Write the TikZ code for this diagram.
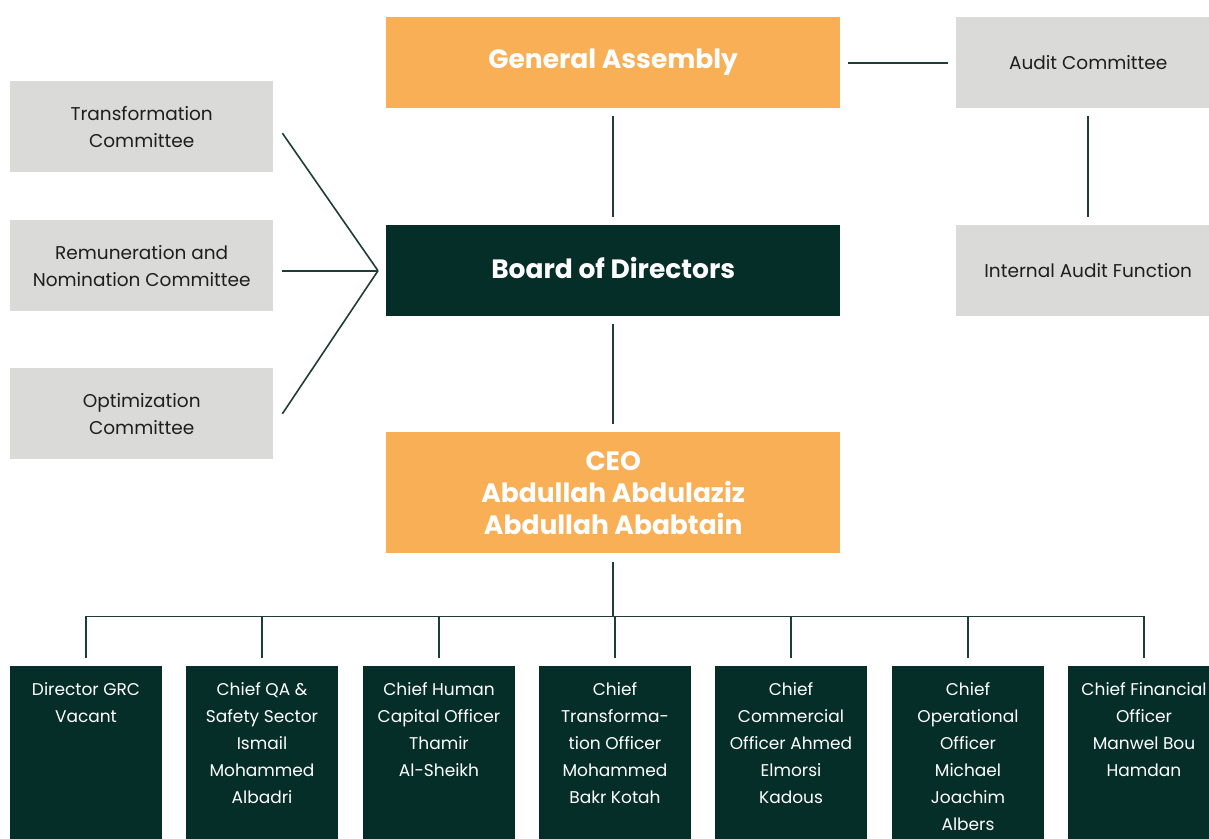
\documentclass[tikz,border=0pt]{standalone}
\usepackage{fontspec}
\setmainfont{Poppins}
\usetikzlibrary{calc}
\definecolor{orangebox}{HTML}{F9AF55}
\definecolor{greenbox}{HTML}{062E28}
\definecolor{greybox}{HTML}{DADAD9}
\definecolor{linkcol}{HTML}{1F3D36}
\definecolor{greytext}{HTML}{1E1E1E}
% text of a staff box, set from the top of the box
\newcommand\stafftext[1]{\parbox[t][180pt][t]{152pt}{\centering\rule{0pt}{29pt}#1}}
\begin{document}
\begin{tikzpicture}[x=1pt,y=-1pt,
  headbox/.style={fill=orangebox, text=white, anchor=north west, inner sep=0pt,
    minimum width=454pt, minimum height=91pt, align=center,
    font=\fontsize{26.5}{32}\selectfont\bfseries},
  boardbox/.style={headbox, fill=greenbox, text depth=6pt},
  sidebox/.style={fill=greybox, text=greytext, anchor=north west, inner sep=0pt,
    minimum width=264pt, minimum height=91pt, align=center,
    font=\fontsize{18.5}{27}\selectfont},
  staffbox/.style={fill=greenbox, text=white, anchor=north, inner sep=0pt,
    font=\fontsize{17}{27}\selectfont},
  link/.style={draw=linkcol, line width=1.6pt},
  gap/.style={shorten <=8pt, shorten >=8pt}]
\useasboundingbox[fill=white] (0,0) rectangle (1209,838);

% governing bodies
\node[headbox] (ga) at (386,17) {General Assembly};
\node[boardbox] (bod) at (386,225) {Board of Directors};
\node[headbox, minimum height=121pt] (ceo) at (386,432) {CEO\\Abdullah Abdulaziz\\Abdullah Ababtain};

% audit side
\node[sidebox] (ac) at (956,17) {Audit Committee};
\node[sidebox] (iaf) at (956,225) {Internal Audit Function};

% board committees
\node[sidebox, minimum width=263pt] (tc) at (10,81) {Transformation\\Committee};
\node[sidebox, minimum width=263pt] (rn) at (10,220) {Remuneration and\\Nomination Committee};
\node[sidebox, minimum width=263pt] (oc) at (10,368) {Optimization\\Committee};

% executive team
\node[staffbox] (s1) at (86,666) {\stafftext{Director GRC\\Vacant}};
\node[staffbox] (s2) at (262,666) {\stafftext{Chief QA \&\\Safety Sector\\Ismail\\Mohammed\\Albadri}};
\node[staffbox] (s3) at (439,666) {\stafftext{Chief Human\\Capital Officer\\Thamir\\Al-Sheikh}};
\node[staffbox] (s4) at (615,666) {\stafftext{Chief\\Transforma-\\tion Officer\\Mohammed\\Bakr Kotah}};
\node[staffbox] (s5) at (791,666) {\stafftext{Chief\\Commercial\\Officer Ahmed\\Elmorsi\\Kadous}};
\node[staffbox] (s6) at (968,666) {\stafftext{Chief\\Operational\\Officer\\Michael\\Joachim\\Albers}};
\node[staffbox] (s7) at (1144,666) {\stafftext{Chief Financial\\Officer\\Manwel Bou\\Hamdan}};

% reporting lines
\draw[link, gap] (ga) -- (bod);
\draw[link, gap] (bod) -- (ceo);
\draw[link, gap] (ga) -- (ac);
\draw[link, gap] (ac) -- (iaf);

\coordinate (hub) at ($(bod.west)+(-8,0)$);
\draw[link] ($(tc.east)+(9,6.5)$) -- (hub);
\draw[link] ($(rn.east)+(9,5)$) -- (hub);
\draw[link] ($(oc.east)+(9,0)$) -- (hub);

\coordinate (bus) at ($(ceo.south)+(0,63)$);
\draw[link] ([yshift=-9pt]ceo.south) -- (bus);
\foreach \s in {s1,s2,s3,s4,s5,s6,s7}
  \draw[link] (bus) -| ([yshift=8pt]\s.north);
\end{tikzpicture}
\end{document}
